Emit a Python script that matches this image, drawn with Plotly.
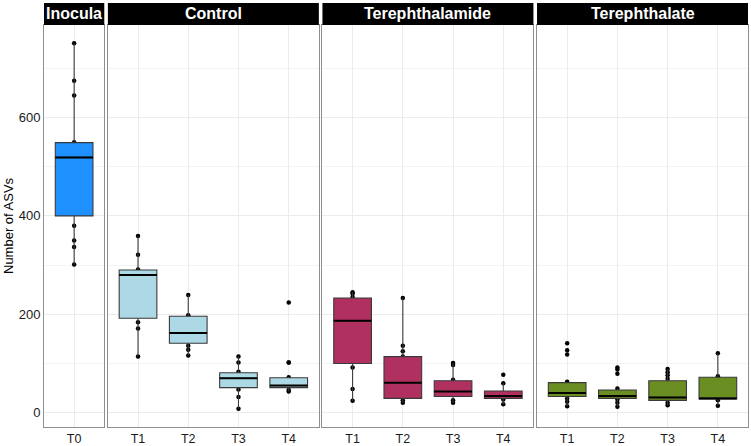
"""Number of ASVs per sampling time, faceted by treatment (ggplot-style boxplots)."""

import plotly.graph_objects as go

# --- data ------------------------------------------------------------------
panels = ["Inocula", "Control", "Terephthalamide", "Terephthalate"]
panel_times = [["T0"], ["T1", "T2", "T3", "T4"], ["T1", "T2", "T3", "T4"], ["T1", "T2", "T3", "T4"]]
panel_colors = ["#1E90FF", "#ADD8E6", "#B03060", "#6B8E23"]

inocula_q1 = [400]
inocula_median = [519]
inocula_q3 = [549]
inocula_points = [[751, 675, 645, 550, 380, 350, 337, 301]]

control_q1 = [192, 141, 51, 51]
control_median = [280, 162, 70, 55]
control_q3 = [290, 196, 81, 71]
control_points = [
    [359, 321, 291, 184, 171, 114],
    [239, 198, 136, 128, 116],
    [114, 102, 83, 47, 32, 8],
    [224, 102, 102, 72, 46, 43],
]

amide_q1 = [100, 29, 33, 29]
amide_median = [187, 61, 43, 34]
amide_q3 = [233, 114, 65, 44]
amide_points = [
    [245, 242, 235, 92, 48, 24],
    [233, 136, 125, 114, 25, 20],
    [101, 97, 67, 25, 20],
    [77, 60, 27, 17],
]

ate_q1 = [33, 29, 25, 28]
ate_median = [40, 34, 31, 29]
ate_q3 = [61, 46, 65, 72]
ate_points = [
    [141, 127, 118, 63, 29, 22, 13],
    [92, 88, 79, 49, 27, 20, 12],
    [89, 82, 76, 69, 20, 15],
    [121, 74, 25, 14],
]

all_q1 = [inocula_q1, control_q1, amide_q1, ate_q1]
all_median = [inocula_median, control_median, amide_median, ate_median]
all_q3 = [inocula_q3, control_q3, amide_q3, ate_q3]
all_points = [inocula_points, control_points, amide_points, ate_points]


def whiskers(points, q1, q3):
    """ggplot rule: furthest point within 1.5 * IQR of the box."""
    iqr = q3 - q1
    lo = min([p for p in points if p >= q1 - 1.5 * iqr] + [q1])
    hi = max([p for p in points if p <= q3 + 1.5 * iqr] + [q3])
    return lo, hi


def main():
    fig = go.Figure()

    # panel geometry (pixels) -> paper fractions
    width, height = 751, 446
    m_l, m_r, m_t, m_b = 44, 3, 25, 19
    gap = 3.6
    plot_w = width - m_l - m_r
    plot_h = height - m_t - m_b
    units = [len(t) + 0.2 for t in panel_times]
    px_per_unit = (plot_w - gap * (len(panels) - 1)) / sum(units)

    flat = [v for pts in all_points for grp in pts for v in grp]
    span = max(flat) - min(flat)
    y_range = [min(flat) - 0.05 * span, max(flat) + 0.05 * span]

    grid = "#EBEBEB"
    border = "#8F8F8F"
    font = "Liberation Sans, Arial, Helvetica, sans-serif"

    left = 0.0
    for i, name in enumerate(panels):
        ax = "" if i == 0 else str(i + 1)
        xa, ya = "x" + ax, "y" + ax
        times = panel_times[i]
        color = panel_colors[i]

        lows, highs = [], []
        for pts, q1, q3 in zip(all_points[i], all_q1[i], all_q3[i]):
            lo, hi = whiskers(pts, q1, q3)
            lows.append(lo)
            highs.append(hi)

        # points first so the boxes sit on top of them (as in ggplot)
        for t, pts in zip(times, all_points[i]):
            fig.add_trace(go.Box(
                x=[t] * len(pts), y=pts, xaxis=xa, yaxis=ya,
                boxpoints="all", jitter=0, pointpos=0, width=0.75,
                fillcolor="rgba(0,0,0,0)", line=dict(width=0, color="rgba(0,0,0,0)"),
                marker=dict(color="black", size=4.5), showlegend=False, hoverinfo="y",
            ))

        fig.add_trace(go.Box(
            x=times, q1=all_q1[i], median=all_median[i], q3=all_q3[i],
            lowerfence=lows, upperfence=highs, xaxis=xa, yaxis=ya,
            boxpoints=False, width=0.75, whiskerwidth=0,
            fillcolor=color, line=dict(color="#3A3A3A", width=1.1),
            showlegend=False,
        ))
        # thicker median bar
        fig.add_trace(go.Box(
            x=times, q1=all_median[i], median=all_median[i], q3=all_median[i],
            lowerfence=all_median[i], upperfence=all_median[i], xaxis=xa, yaxis=ya,
            boxpoints=False, width=0.75, whiskerwidth=0,
            fillcolor="rgba(0,0,0,0)", line=dict(color="black", width=2),
            showlegend=False, hoverinfo="skip",
        ))

        w = units[i] * px_per_unit / plot_w
        dom = [left, min(left + w, 1.0)]
        left = left + w + gap / plot_w

        fig.update_layout(**{
            "xaxis" + ax: dict(
                domain=dom, anchor=ya, type="category", categoryorder="array",
                categoryarray=times, range=[-0.6, len(times) - 0.4],
                showgrid=True, gridcolor=grid, gridwidth=1,
                showline=True, mirror=True, linecolor=border, linewidth=1,
                ticks="", tickfont=dict(size=12.5, color="#1A1A1A", family=font),
                zeroline=False, fixedrange=True, automargin=False,
            ),
            "yaxis" + ax: dict(
                anchor=xa, range=y_range, dtick=200, tick0=0,
                showgrid=True, gridcolor=grid, gridwidth=1,
                minor=dict(dtick=100, tick0=0, showgrid=True, gridcolor="#F4F4F4", gridwidth=0.6),
                showline=True, mirror=True, linecolor=border, linewidth=1,
                zeroline=False, ticks="", showticklabels=(i == 0),
                tickfont=dict(size=13, color="#1A1A1A", family=font),
                matches=None if i == 0 else "y", automargin=False,
            ),
        })

        # facet strip
        strip_h = 22 / plot_h
        fig.add_shape(type="rect", xref=xa + " domain", yref="paper",
                      x0=0, x1=1, y0=1.0, y1=1.0 + strip_h,
                      fillcolor="black", line=dict(width=0), layer="above")
        fig.add_annotation(text="<b>%s</b>" % name, xref=xa + " domain", yref="paper",
                           x=0.5, y=1.0 + strip_h / 2, showarrow=False,
                           xanchor="center", yanchor="middle",
                           font=dict(size=16, color="white", family=font))

    # y-axis title, placed like ggplot's
    fig.add_annotation(text="Number of ASVs", xref="paper", yref="paper",
                       x=-(m_l - 8) / plot_w, y=0.5, textangle=-90, showarrow=False,
                       xanchor="center", yanchor="middle",
                       font=dict(size=13, color="black", family=font))

    fig.update_layout(
        width=width, height=height,
        margin=dict(l=m_l, r=m_r, t=m_t, b=m_b),
        plot_bgcolor="white", paper_bgcolor="white",
        boxmode="overlay", showlegend=False,
        font=dict(family=font),
    )

    # the page's default body margin would shift the figure by 8px
    fig.write_html("out.html", config={"displayModeBar": False},
                   post_script="document.body.style.margin = '0px';")


if __name__ == "__main__":
    main()
